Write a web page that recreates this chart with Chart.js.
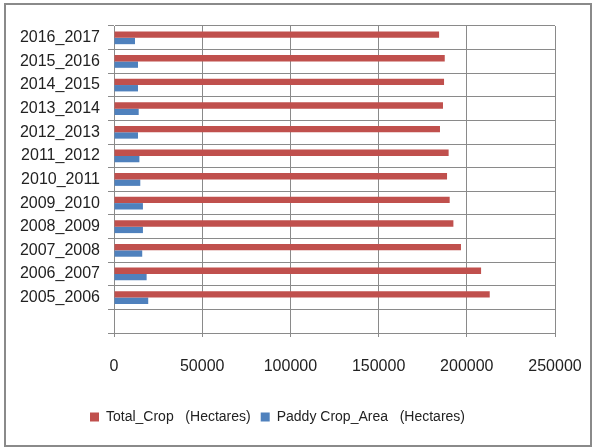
<!DOCTYPE html>
<html>
<head>
<meta charset="utf-8">
<script src="https://cdn.jsdelivr.net/npm/chart.js@4"></script>
<style>
  body { margin: 0; background: #fff; }
  #wrap { position: absolute; left: 0; top: 0; width: 593px; height: 447px; }
  #frame { position: absolute; left: 4px; top: 3px; width: 584px; height: 440px; border: 2px solid #8a8a8a; pointer-events: none; }
</style>
</head>
<body>
<div id="wrap"><canvas id="grafico" width="593" height="447"></canvas></div>
<div id="frame"></div>
<script>
// periodos, de arriba hacia abajo (la ultima fila queda vacia como en el original)
const periodos = ['2016_2017', '2015_2016', '2014_2015', '2013_2014', '2012_2013', '2011_2012',
  '2010_2011', '2009_2010', '2008_2009', '2007_2008', '2006_2007', '2005_2006', ''];
const cultivoTotal = [184300, 187500, 187100, 186500, 184800, 189700,
  188800, 190300, 192400, 196700, 208100, 213000, null];
const arrozArea = [11900, 13600, 13600, 14000, 13600, 14400,
  14900, 16400, 16400, 16000, 18500, 19400, null];
const ticksX = [0, 50000, 100000, 150000, 200000, 250000];

const fuente = "'Liberation Sans', Arial, sans-serif";
const colorGrid = '#8a8a8a';

const ctx = document.getElementById('grafico');
new Chart(ctx, {
    type: 'bar',
    data: {
        labels: periodos,
        datasets: [
            {
                label: 'Total_Crop   (Hectares)',
                data: cultivoTotal,
                backgroundColor: '#C0504D',
                borderWidth: 0
            },
            {
                label: 'Paddy Crop_Area   (Hectares)',
                data: arrozArea,
                backgroundColor: '#4F81BD',
                borderWidth: 0
            }
        ]
    },
    options: {
        indexAxis: 'y',
        responsive: false,
        animation: false,
        devicePixelRatio: 1,
        layout: {
            padding: { left: 0, right: 38, top: 26, bottom: 13 }
        },
        datasets: {
            bar: { categoryPercentage: 0.54, barPercentage: 1 }
        },
        plugins: {
            tooltip: { enabled: false },
            legend: {
                position: 'bottom',
                labels: {
                    boxWidth: 9,
                    boxHeight: 9,
                    padding: 10,
                    color: '#222',
                    font: { family: fuente, size: 14 }
                }
            }
        },
        scales: {
            x: {
                min: ticksX[0],
                max: ticksX[ticksX.length - 1],
                afterBuildTicks: (scale) => { scale.ticks = ticksX.map(v => ({ value: v })); },
                afterFit: (scale) => {
                    scale.height = 67;
                    scale.paddingLeft = 5;
                    scale.paddingRight = 28;
                },
                border: { color: colorGrid, width: 1 },
                grid: { color: colorGrid, tickLength: 4, lineWidth: 1 },
                ticks: {
                    color: '#222',
                    padding: 20,
                    maxRotation: 0,
                    callback: (v) => String(v),
                    font: { family: fuente, size: 16 }
                }
            },
            y: {
                afterFit: (scale) => { scale.width = 114; },
                border: { color: colorGrid, width: 1 },
                grid: { color: colorGrid, tickLength: 6, offset: true },
                ticks: {
                    color: '#222',
                    padding: 8,
                    autoSkip: false,
                    font: { family: fuente, size: 16 }
                }
            }
        }
    }
});
</script>
</body>
</html>
